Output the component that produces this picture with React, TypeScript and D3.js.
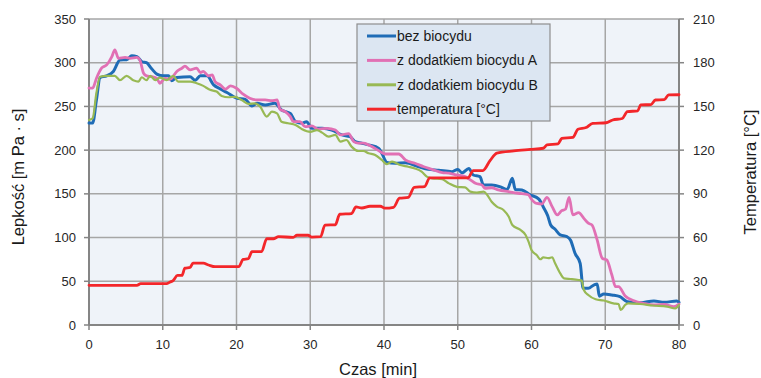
import React from 'react';
import * as d3 from 'd3';

// [czas (min), lepkość (mPa·s)]
const bezBiocydu: [number, number][] = [
  [0, 231], [0.5, 231], [1, 257], [1.5, 283], [2.4, 285], [3.3, 290], [4.2, 303], [5.1, 303.5], [5.8, 308],
  [6.5, 307], [7.2, 301], [7.8, 300], [8.5, 293], [9.2, 287], [10.1, 285], [10.8, 285], [11.2, 279.5],
  [11.9, 283], [13.7, 284], [14.4, 280], [15.1, 285], [16, 285], [16.9, 274.6], [17.8, 270], [18.7, 266],
  [20, 259.5], [21.2, 258], [22.1, 250.5], [22.8, 253.6], [23.9, 251.7], [25.2, 253.6], [26.1, 246],
  [27.3, 242], [28, 232.6], [28.9, 230.8], [29.5, 232.6], [30.2, 225], [31.6, 225], [32.9, 223],
  [34.3, 217.4], [35.4, 215.4], [36.1, 209.7], [37, 207.9], [37.9, 206], [39.3, 202], [39.7, 196.4],
  [40.4, 186], [41.5, 185], [42.9, 185.7], [44.7, 181], [46, 178], [47.4, 177], [49.2, 175.4], [50, 178],
  [50.6, 174], [51.5, 179], [52.1, 171.6], [53, 169.7], [53.5, 160], [54.6, 160], [55.8, 158], [56.7, 155],
  [57.4, 167.8], [57.8, 155], [58.7, 154.4], [59.8, 149], [61, 144], [61.6, 135], [62.2, 125], [62.6, 114.4],
  [63.2, 109.5], [63.9, 103], [64.8, 101], [65.3, 97], [65.9, 82], [66.6, 70.6], [67, 42], [67.7, 42],
  [68.5, 46], [68.9, 47], [69.2, 33], [69.8, 35.5], [70.9, 34.3], [72, 32.4], [73, 26.7], [74.8, 25.5],
  [76.6, 27.5], [78, 26], [79.7, 27.5], [80, 26],
];

const biocydA: [number, number][] = [
  [0, 271], [0.5, 271], [1, 282], [1.7, 293.7], [2.4, 297.5], [3.1, 307], [3.5, 314.6], [4, 305], [4.9, 306],
  [5.6, 305], [6.5, 306], [6.9, 303], [7.4, 288], [7.8, 285], [8.5, 284], [9.2, 282], [9.6, 276.5],
  [10.3, 282], [11, 281], [11.9, 290], [12.6, 293.7], [13, 296], [13.7, 291.8], [14.6, 293.7], [15.1, 288.7],
  [15.5, 290], [16.2, 285], [16.7, 286], [17.1, 278.4], [17.8, 274.6], [18.5, 269.7], [19.2, 273.6],
  [20, 270.8], [20.9, 264], [21.8, 259.4], [22.8, 257.4], [23.9, 257.4], [24.8, 256.6], [25.5, 257.4],
  [25.9, 246.8], [26.6, 244], [27.3, 238.3], [27.7, 232.6], [28.6, 232.6], [29.3, 226.9], [30.2, 227.7],
  [31.1, 224], [32.3, 225], [33.4, 223], [34.1, 217.4], [35.2, 219], [35.9, 209.7], [36.5, 208], [37.2, 208],
  [37.9, 206], [38.8, 202], [40.2, 195.6], [42, 195.6], [42.9, 188.8], [44.2, 185], [45.4, 181], [46.5, 178],
  [47.9, 174.3], [48.8, 173.6], [49.9, 171.6], [51, 169.7], [51.7, 166], [52.4, 162], [53.3, 160],
  [53.7, 156.4], [54.6, 157], [55.5, 154.5], [56.9, 152.5], [58.2, 150.7], [59.6, 149], [59.9, 145],
  [60.7, 139], [61.4, 138.4], [62.1, 146], [62.8, 135.4], [63.5, 125.9], [64.1, 130.8], [64.6, 132.4],
  [65.1, 146], [65.6, 125.9], [66.4, 128.5], [67.1, 122], [67.7, 116.4], [68.2, 114.4], [68.9, 97.3],
  [69.6, 76.3], [70.2, 74.4], [70.9, 57.2], [71.4, 43.8], [71.8, 43.8], [72.7, 33.2], [73.9, 27.8],
  [75.2, 24.8], [76.6, 22.9], [78, 23.6], [79.3, 21], [80, 24],
];

const biocydB: [number, number][] = [
  [0, 234.5], [0.5, 236.5], [1, 265], [1.5, 284], [2.4, 285], [3.5, 285], [4.2, 280], [5.1, 285], [6, 280],
  [6.7, 278.4], [7.15, 283.4], [7.8, 280], [8.3, 285], [9, 280], [9.6, 283], [10.5, 280], [11.4, 285],
  [12.1, 278.4], [13.7, 278.4], [14.6, 276.5], [15.5, 273.5], [16.4, 269], [17.3, 267], [18, 262],
  [18.9, 260.5], [19.8, 261], [20.7, 257.4], [21.6, 252.9], [22.5, 253.6], [23.2, 249.8], [24.1, 238.3],
  [24.8, 244], [25.5, 242], [26.1, 232.6], [27, 230.8], [28, 228.8], [28.9, 224], [30, 221], [30.9, 223],
  [31.6, 220], [32.5, 215.4], [33.4, 217.4], [34.1, 209.7], [34.9, 211.6], [35.6, 204], [36.5, 199],
  [37.2, 199], [37.9, 196.4], [38.8, 194.5], [39.7, 188.8], [40.4, 184], [41.1, 186.8], [42.2, 183],
  [43.3, 181], [44.2, 179], [45.1, 175.4], [45.8, 169.7], [46.5, 167.8], [47.9, 166.7], [48.8, 162],
  [49.9, 158], [51, 157.4], [51.7, 152.5], [52.6, 151.4], [53.5, 152.5], [54, 148.7], [54.6, 141],
  [55.3, 135.4], [56.2, 131.6], [56.9, 124], [57.4, 114.4], [58.5, 108.7], [59.2, 103], [59.6, 95.3],
  [60, 85.8], [60.7, 80], [61.2, 75.2], [61.6, 77.3], [62.3, 76.5], [62.8, 77.5], [63.2, 70.6], [63.9, 59],
  [64.4, 53.4], [65.3, 52.6], [66.4, 51.5], [66.8, 51], [67.1, 40], [67.7, 34.3], [68.7, 29.4], [69.8, 28],
  [71.1, 24.8], [71.8, 24], [72.1, 17.2], [72.7, 22.9], [73.1, 24.8], [74.7, 24], [76.5, 22.3], [78.4, 21],
  [79.5, 19], [80, 22.9],
];

// [czas (min), temperatura (°C)]
const temperatura: [number, number][] = [
  [0, 27.2], [6.5, 27.2], [7, 28.4], [10.5, 28.4], [11, 29.5], [11.4, 30.5], [12, 34], [12.6, 34], [13, 39],
  [13.7, 39.5], [14.1, 42.4], [15.5, 42.4], [16.2, 41.2], [17.1, 40], [20.3, 40], [20.9, 45], [21.6, 45.5],
  [22.1, 50.3], [23.4, 50.3], [24.1, 59.2], [25, 59.2], [25.7, 60.6], [27.7, 60.2], [28.2, 61.6],
  [29.7, 61.6], [30.2, 60.3], [31.4, 60.6], [32, 68.6], [33.4, 68.8], [34, 76], [35.6, 76.5], [36.2, 81],
  [37, 80.3], [38.1, 81.5], [39.5, 81.5], [40.1, 80.2], [41.3, 80.8], [42.1, 87], [43.3, 87.6], [44.1, 94.5],
  [45.5, 95], [46.2, 101], [51.4, 101], [52.1, 106], [53.4, 106], [54.4, 113], [55.3, 118], [57.6, 119.5],
  [59.8, 120.5], [61.6, 121.3], [62.1, 123.6], [63.6, 124.3], [64.1, 128], [65.6, 128.7], [66.3, 134.3],
  [67.4, 135.5], [68.3, 138.4], [70.1, 138.8], [71, 140.7], [72.3, 141.7], [73, 146.4], [74.4, 147],
  [74.8, 151], [76.2, 151.3], [76.8, 154.4], [78, 154.6], [78.6, 157.9], [80, 158],
];

const xTicks = [0, 10, 20, 30, 40, 50, 60, 70, 80];
const yTicks = [0, 50, 100, 150, 200, 250, 300, 350];
const tTicks = [0, 30, 60, 90, 120, 150, 180, 210];

const legendLabels = ['bez biocydu', 'z dodatkiem biocydu A', 'z dodatkiem biocydu B', 'temperatura [°C]'];

const App = () => {
  const W = 761;
  const H = 378;
  const m = { left: 89, right: 82, top: 19, bottom: 53 };

  const x = d3.scaleLinear().domain([0, 80]).range([m.left, W - m.right]);
  const y = d3.scaleLinear().domain([0, 350]).range([H - m.bottom, m.top]);
  const yT = d3.scaleLinear().domain([0, 210]).range([H - m.bottom, m.top]);

  const lineV = d3.line<[number, number]>().x(d => x(d[0])).y(d => y(d[1])).curve(d3.curveMonotoneX);
  const lineT = d3.line<[number, number]>().x(d => x(d[0])).y(d => yT(d[1])).curve(d3.curveMonotoneX);

  const series = [
    { data: bezBiocydu, color: '#1f6cb6', w: 3, gen: lineV },
    { data: biocydA, color: '#e170b4', w: 2.8, gen: lineV },
    { data: biocydB, color: '#98b954', w: 2.2, gen: lineV },
    { data: temperatura, color: '#f3262a', w: 2.8, gen: lineT },
  ];

  const font = '"Liberation Sans", Arial, sans-serif';
  const x0 = x(0), x1 = x(80), y0 = y(0), y1 = y(350);

  return (
    <svg width={W} height={H} style={{ position: 'absolute', left: 0, top: 0, background: '#fff', fontFamily: font }}>
      <rect x={x0} y={y1} width={x1 - x0} height={y0 - y1} fill="#eff3f9" />
      {/* gridlines */}
      {yTicks.map(t => (
        <line key={'gy' + t} x1={x0} x2={x1} y1={y(t)} y2={y(t)} stroke="#a6a6a6" strokeWidth={1.5} />
      ))}
      {xTicks.map(t => (
        <line key={'gx' + t} x1={x(t)} x2={x(t)} y1={y1} y2={y0} stroke="#a6a6a6" strokeWidth={1.5} />
      ))}
      {/* axes */}
      <line x1={x0} x2={x0} y1={y1} y2={y0} stroke="#858585" strokeWidth={2} />
      <line x1={x1} x2={x1} y1={y1} y2={y0} stroke="#858585" strokeWidth={2} />
      <line x1={x0} x2={x1} y1={y0} y2={y0} stroke="#858585" strokeWidth={2} />
      {yTicks.map(t => (
        <g key={'ly' + t}>
          <line x1={x0 - 5} x2={x0} y1={y(t)} y2={y(t)} stroke="#858585" strokeWidth={1.5} />
          <text x={x0 - 13} y={y(t)} dy="0.35em" textAnchor="end" fontSize={13} fill="#262626">{t}</text>
        </g>
      ))}
      {tTicks.map(t => (
        <g key={'ry' + t}>
          <line x1={x1} x2={x1 + 5} y1={yT(t)} y2={yT(t)} stroke="#858585" strokeWidth={1.5} />
          <text x={x1 + 14} y={yT(t)} dy="0.35em" textAnchor="start" fontSize={13} fill="#262626">{t}</text>
        </g>
      ))}
      {xTicks.map(t => (
        <g key={'lx' + t}>
          <line x1={x(t)} x2={x(t)} y1={y0} y2={y0 + 5} stroke="#858585" strokeWidth={1.5} />
          <text x={x(t)} y={y0 + 19} dy="0.35em" textAnchor="middle" fontSize={13} fill="#262626">{t}</text>
        </g>
      ))}
      {/* series */}
      {series.map((s, i) => (
        <path key={'s' + i} d={s.gen(s.data) || ''} fill="none" stroke={s.color} strokeWidth={s.w}
          strokeLinejoin="round" strokeLinecap="round" />
      ))}
      {/* axis titles */}
      <text x={378} y={369} dy="0.35em" textAnchor="middle" fontSize={16.5} fill="#1a1a1a">Czas [min]</text>
      <text transform={`translate(18,177) rotate(-90)`} dy="0.35em" textAnchor="middle" fontSize={16.5} fill="#1a1a1a">Lepkość [m Pa · s]</text>
      <text transform={`translate(750,172) rotate(-90)`} dy="0.35em" textAnchor="middle" fontSize={16.5} fill="#1a1a1a">Temperatura [°C]</text>
      {/* legend */}
      <rect x={357} y={24} width={193} height={97} fill="#dce6f2" stroke="#8e8e8e" strokeWidth={1.2} />
      {series.map((s, i) => (
        <g key={'lg' + i}>
          <line x1={367} x2={396} y1={36 + i * 24.4} y2={36 + i * 24.4} stroke={s.color} strokeWidth={3} />
          <text x={397} y={36 + i * 24.4} dy="0.35em" fontSize={14} fill="#1a1a1a">{legendLabels[i]}</text>
        </g>
      ))}
    </svg>
  );
};

export default App;
